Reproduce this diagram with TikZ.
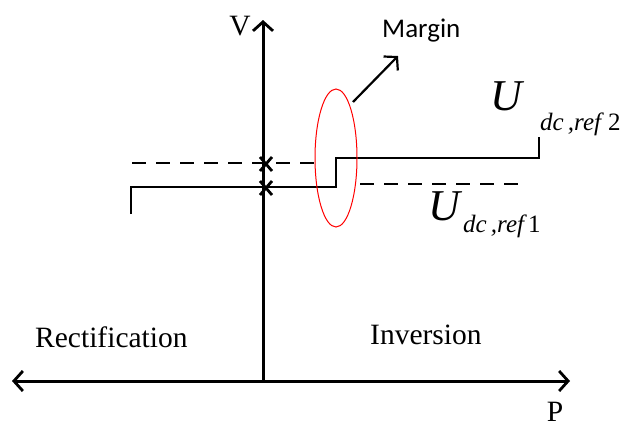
\documentclass[tikz,border=0pt]{standalone}
\usepackage{fontspec}
\setmainfont{Liberation Serif}
\newfontfamily\sansfnt{Carlito}
\usetikzlibrary{arrows.meta,shapes.geometric}
\tikzset{
  barb/.tip={Straight Barb[length=9pt,width=20pt,line width=2.8pt]},
  axisline/.style={line width=3pt},
  stepline/.style={line width=2.8pt},
  refline/.style={line width=2.8pt, dash pattern=on 14pt off 10pt},
  crossmark/.style={line width=2.8pt},
  lbl/.style={inner sep=0pt, font=\fontsize{29.5}{32}\selectfont},
  bigU/.style={inner sep=0pt, font=\fontsize{44}{48}\selectfont\itshape},
  subU/.style={inner sep=0pt, font=\fontsize{25}{28}\selectfont\itshape},
}
\begin{document}
\begin{tikzpicture}[x=1pt,y=-1pt]
\useasboundingbox (0,0) rectangle (623,432);
% axes
\coordinate (hl) at (12,381);
\coordinate (hr) at (570,381);
\coordinate (vb) at (263,381);
\coordinate (vt) at (263,20);
\draw[axisline, barb-barb] (hl) -- (hr);
\draw[axisline, -barb] (vb) -- (vt);
% step characteristic
\coordinate (s0) at (131,214);
\coordinate (s1) at (131,187);
\coordinate (s2) at (336,187);
\coordinate (s3) at (336,158);
\coordinate (s4) at (539,158);
\coordinate (s5) at (539,137);
\draw[stepline, line join=miter] (s0) -- (s1) -- (s2) -- (s3) -- (s4) -- (s5);
% dashed references
\coordinate (d1a) at (132,163);
\coordinate (d1b) at (322,163);
\coordinate (d2a) at (360,184);
\coordinate (d2b) at (528,184);
\draw[refline] (d1a) -- (d1b);
\draw[refline] (d2a) -- (d2b);
% cross marks
\coordinate (x1) at (266,164);
\coordinate (x2) at (266,188);
\foreach \c in {x1,x2}{
  \draw[crossmark] ([shift={(-6,-7)}]\c) -- ([shift={(6,7)}]\c);
  \draw[crossmark] ([shift={(-6,7)}]\c) -- ([shift={(6,-7)}]\c);
}
% margin ellipse
\node[draw=red, line width=1pt, ellipse, minimum width=42pt, minimum height=138pt, inner sep=0pt] (marg) at (336,158) {};
\coordinate (ma) at (353,102);
\coordinate (mb) at (398,56);
\draw[line width=2.2pt, -{Straight Barb[length=9pt,width=20pt,line width=2.2pt]}] (ma) -- (mb);
% labels
\node[lbl, anchor=base] (V) at (240,35) {V};
\node[lbl, anchor=base] (P) at (555,421) {P};
\node[lbl, anchor=base west] (rect) at (35,347) {Rectification};
\node[lbl, anchor=base west] (inv) at (370,344) {Inversion};
\node[inner sep=0pt, anchor=base west, font=\sansfnt\fontsize{27}{30}\selectfont] (mtxt) at (382,37) {Margin};
\node[bigU, anchor=base west] (U2) at (490,110) {U};
\node[subU, anchor=base west] (U2s) at (540,130) {dc\,,ref\;\upshape 2};
\node[bigU, anchor=base west] (U1) at (428,220) {U};
\node[subU, anchor=base west] (U1s) at (463,232) {dc\,,ref\,\upshape 1};
\end{tikzpicture}
\end{document}
